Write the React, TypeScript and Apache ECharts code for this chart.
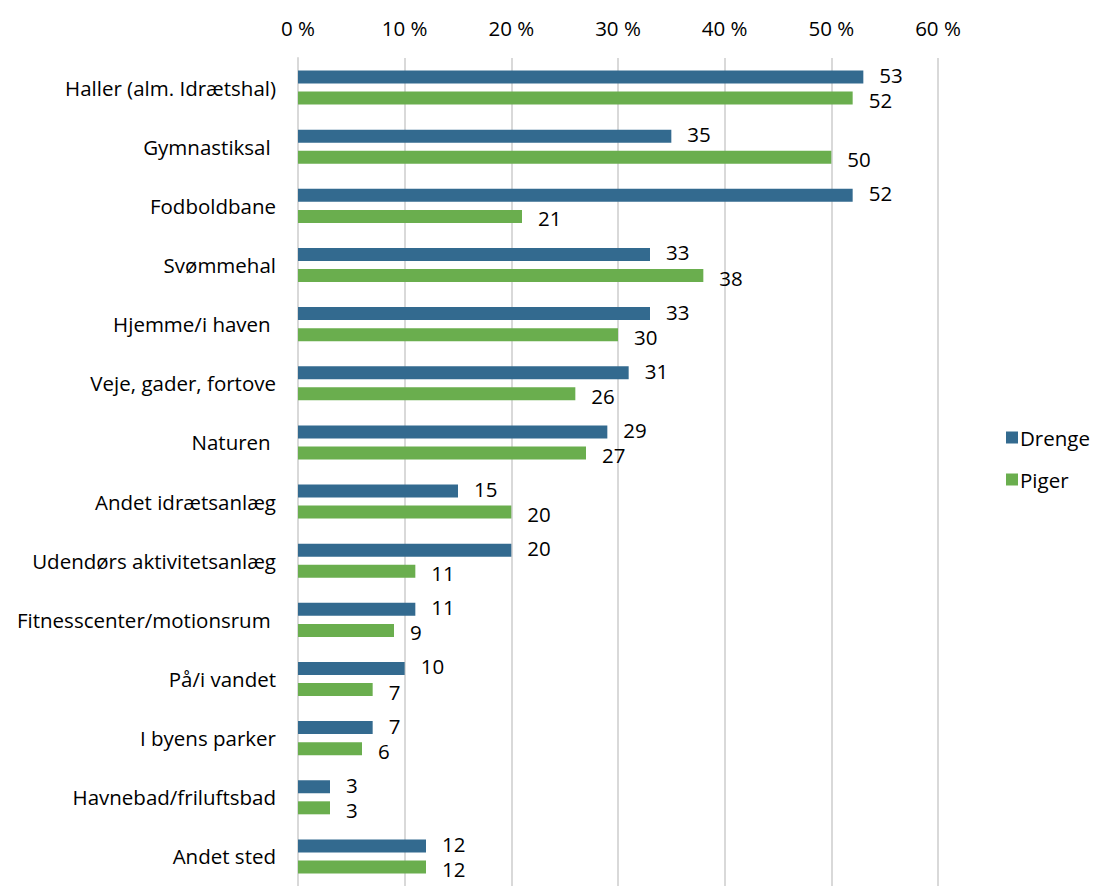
import React, { useEffect, useRef } from "react";
import * as echarts from "echarts";

const categories = [
  "Haller (alm. Idrætshal)",
  "Gymnastiksal ",
  "Fodboldbane",
  "Svømmehal",
  "Hjemme/i haven ",
  "Veje, gader, fortove",
  "Naturen ",
  "Andet idrætsanlæg",
  "Udendørs aktivitetsanlæg",
  "Fitnesscenter/motionsrum ",
  "På/i vandet",
  "I byens parker",
  "Havnebad/friluftsbad",
  "Andet sted",
];
const drenge = [53, 35, 52, 33, 33, 31, 29, 15, 20, 11, 10, 7, 3, 12];
const piger = [52, 50, 21, 38, 30, 26, 27, 20, 11, 9, 7, 6, 3, 12];
const xTicks = [0, 10, 20, 30, 40, 50, 60];

const FONT = "'Open Sans', sans-serif";
const FS = 20.5;

export default function App() {
  const ref = useRef<HTMLDivElement>(null);
  useEffect(() => {
    if (!ref.current) return;
    const chart = echarts.init(ref.current, undefined, { renderer: "svg" });
    const labelCfg = (dy: number) => ({
      show: true,
      position: "right" as const,
      distance: 16,
      offset: [0, dy],
      color: "#000",
      fontSize: FS,
      lineHeight: 18,
      fontFamily: FONT,
    });
    chart.setOption({
      animation: false,
      textStyle: { fontFamily: FONT },
      legend: {
        orient: "vertical",
        left: 1001,
        top: 422,
        itemWidth: 12,
        itemHeight: 12,
        itemGap: 21,
        icon: "rect",
        textStyle: { fontSize: FS, color: "#000", fontFamily: FONT, padding: [0, 0, 0, -3] },
        data: ["Drenge", "Piger"],
      },
      grid: { left: 298, right: 159, top: 58, bottom: -5 },
      xAxis: {
        type: "value",
        position: "top",
        min: xTicks[0],
        max: xTicks[xTicks.length - 1],
        interval: 10,
        axisLine: { show: false },
        axisTick: { show: false },
        axisLabel: {
          formatter: (v: number) => `${v} %`,
          color: "#000",
          fontSize: FS,
          fontFamily: FONT,
          margin: 20,
        },
        splitLine: { show: true, lineStyle: { color: "#d9d9d9", width: 2 } },
      },
      yAxis: {
        type: "category",
        inverse: true,
        data: categories,
        axisLine: { show: true, lineStyle: { color: "#d9d9d9", width: 2 } },
        axisTick: { show: false },
        axisLabel: { color: "#000", fontSize: FS, fontFamily: FONT, margin: 22 },
      },
      series: [
        {
          name: "Drenge",
          type: "bar",
          data: drenge,
          barWidth: 13,
          barGap: "62%",
          itemStyle: { color: "#336A8F" },
          label: labelCfg(-2),
        },
        {
          name: "Piger",
          type: "bar",
          data: piger,
          barWidth: 13,
          barGap: "62%",
          itemStyle: { color: "#6AAE4E" },
          label: labelCfg(2),
        },
      ],
    });
    return () => chart.dispose();
  }, []);
  return (
    <div
      ref={ref}
      style={{ position: "absolute", left: 0, top: 0, width: 1097, height: 886 }}
    />
  );
}
